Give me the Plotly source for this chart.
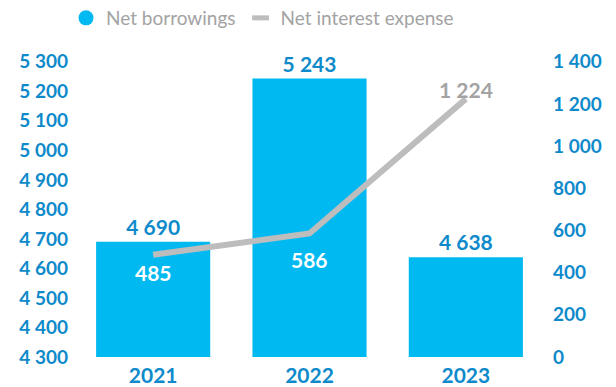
import plotly.graph_objects as go

years = ["2021", "2022", "2023"]
net_borrowings = [4690, 5243, 4638]
net_interest_expense = [485, 586, 1224]

left_ticks = [4300, 4400, 4500, 4600, 4700, 4800, 4900, 5000, 5100, 5200, 5300]
right_ticks = [0, 200, 400, 600, 800, 1000, 1200, 1400]


def fmt(v):
    return f"{v:,}".replace(",", " ")


BLUE_BAR = "#00B9F1"
BLUE_TEXT = "#0E8ACB"
GREY_LINE = "#BDBDBD"
GREY_TEXT = "#A3A3A3"
FONT = "Lato"

fig = go.Figure()

fig.add_trace(go.Bar(
    x=years, y=net_borrowings,
    marker=dict(color=BLUE_BAR, line=dict(width=0)),
    text=[fmt(v) for v in net_borrowings],
    textposition="outside",
    textfont=dict(family=FONT, size=21, color=BLUE_TEXT, weight="bold"),
    showlegend=False,
    hoverinfo="skip",
))

fig.add_trace(go.Scatter(
    x=years, y=net_interest_expense, yaxis="y2",
    mode="lines",
    line=dict(color=GREY_LINE, width=6),
    showlegend=False,
    hoverinfo="skip",
))

# legend entries (no visible points)
fig.add_trace(go.Scatter(
    x=[years[0]], y=[None], mode="markers", name="Net borrowings",
    marker=dict(symbol="circle", size=15, color=BLUE_BAR),
    hoverinfo="skip",
))
fig.add_trace(go.Scatter(
    x=[years[0]], y=[None], mode="markers", name="Net interest expense",
    marker=dict(symbol="line-ew", size=12, line=dict(color=GREY_LINE, width=6)),
    hoverinfo="skip",
))

# labels for the interest line (x given as category index)
shifts = [-18, -26, 9]
for i, (v, s) in enumerate(zip(net_interest_expense, shifts)):
    fig.add_annotation(
        x=i, y=v, xref="x", yref="y2", text=fmt(v), showarrow=False,
        yshift=s,
        font=dict(family=FONT, size=21, color="white" if s < 0 else GREY_TEXT,
                  weight="bold"),
    )

fig.update_layout(
    width=616, height=387,
    margin=dict(l=74.5, r=71.5, t=47, b=29.5, autoexpand=False),
    plot_bgcolor="white", paper_bgcolor="white",
    bargap=0.27,
    legend=dict(
        orientation="h",
        xref="container", x=66 / 616, xanchor="left",
        yref="container", y=1 - 18 / 387, yanchor="middle",
        font=dict(family=FONT, size=19, color=GREY_TEXT),
        itemwidth=30,
    ),
    xaxis=dict(
        type="category", categoryorder="array", categoryarray=years,
        range=[-0.5, 2.5], automargin=False,
        showgrid=False, zeroline=False, showline=False, ticks="",
        ticklabelstandoff=4,
        tickfont=dict(family=FONT, size=21, color=BLUE_TEXT, weight="bold"),
    ),
    yaxis=dict(
        range=[4300, 5350], tickvals=left_ticks, automargin=False,
        ticktext=[fmt(v) for v in left_ticks],
        showgrid=False, zeroline=False, showline=False, ticks="",
        ticklabelstandoff=6,
        tickfont=dict(family=FONT, size=19, color=BLUE_TEXT, weight="bold"),
    ),
    yaxis2=dict(
        overlaying="y", side="right", range=[0, 1470], tickvals=right_ticks,
        ticktext=[fmt(v) for v in right_ticks], automargin=False,
        showgrid=False, zeroline=False, showline=False, ticks="",
        ticklabelstandoff=8,
        tickfont=dict(family=FONT, size=19, color=BLUE_TEXT, weight="bold"),
    ),
)

fig.write_html("out.html")
